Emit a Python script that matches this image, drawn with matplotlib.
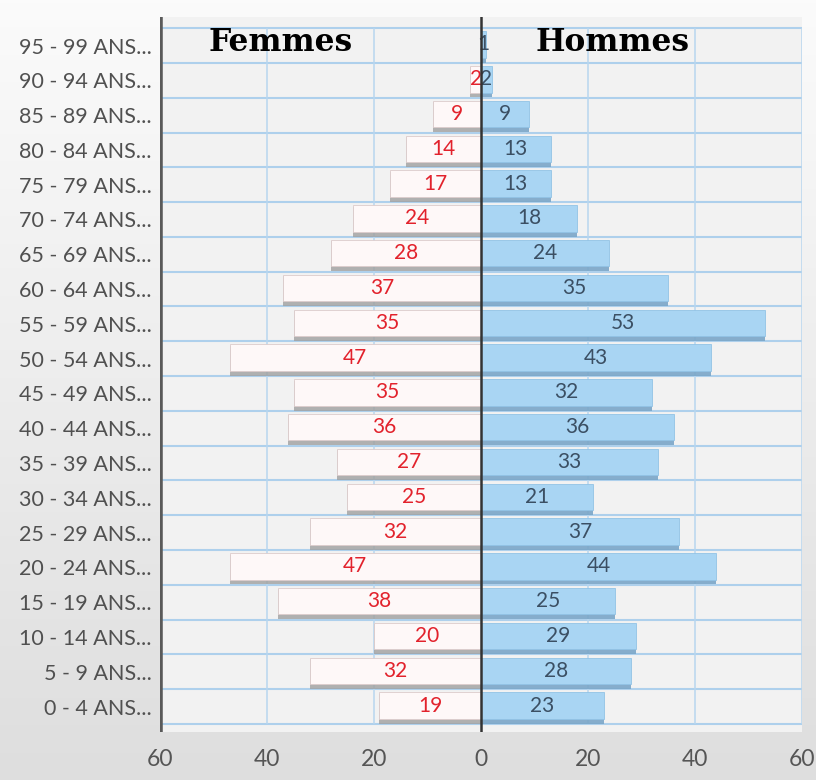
import matplotlib
matplotlib.use("Agg")
import matplotlib.pyplot as plt
import numpy as np

categories = ["0 - 4 ANS...", "5 - 9 ANS...", "10 - 14 ANS...", "15 - 19 ANS...",
              "20 - 24 ANS...", "25 - 29 ANS...", "30 - 34 ANS...", "35 - 39 ANS...",
              "40 - 44 ANS...", "45 - 49 ANS...", "50 - 54 ANS...", "55 - 59 ANS...",
              "60 - 64 ANS...", "65 - 69 ANS...", "70 - 74 ANS...", "75 - 79 ANS...",
              "80 - 84 ANS...", "85 - 89 ANS...", "90 - 94 ANS...", "95 - 99 ANS..."]
femmes = [19, 32, 20, 38, 47, 32, 25, 27, 36, 35, 47, 35, 37, 28, 24, 17, 14, 9, 2, 0]
hommes = [23, 28, 29, 25, 44, 37, 21, 33, 36, 32, 43, 53, 35, 24, 18, 13, 13, 9, 2, 1]
xticks = [-60, -40, -20, 0, 20, 40, 60]
xticklabels = ["60", "40", "20", "0", "20", "40", "60"]

label_font = ["Lato", "DejaVu Sans"]

fig = plt.figure(figsize=(8.16, 7.8), dpi=100)
fig.patch.set_facecolor("#ebebeb")

# subtle background gradient
bg = fig.add_axes([0, 0, 1, 1], zorder=-10)
grad = np.linspace(0, 1, 256).reshape(-1, 1)
bg.imshow(grad, aspect="auto", cmap=matplotlib.colors.LinearSegmentedColormap.from_list(
    "g", ["#fbfbfb", "#dedede"]), extent=[0, 1, 0, 1], origin="upper")
bg.axis("off")

ax = fig.add_axes([160 / 816, 1 - 732 / 780, (802 - 160) / 816, (732 - 17) / 780])
ax.set_facecolor("#f2f2f2")

n = len(categories)
y = np.arange(n)
ax.set_xlim(-60, 60)
ax.set_ylim(-0.73, n - 0.5 + 0.32)

# grid
ax.hlines(np.arange(-0.5, n, 1.0), -60, 60, color="#aed0ec", lw=1.5, zorder=1)
for xv in [-40, -20, 20, 40, 60]:
    ax.vlines(xv, -0.5, n - 0.5, color="#b8d6ef", lw=1.1, zorder=1)

fem = -np.array(femmes, dtype=float)
hom = np.array(hommes, dtype=float)
h = 0.86
# shadows
ax.barh(y - 0.06, fem, height=h, color="#a0a0a0", zorder=2, alpha=0.8)
ax.barh(y - 0.06, hom, height=h, color="#7aa6c8", zorder=2, alpha=0.9)
# main bars
ax.barh(y + 0.03, fem, height=h - 0.1, color="#fef8f8", edgecolor="#dccccc", lw=0.6, zorder=3)
ax.barh(y + 0.03, hom, height=h - 0.1, color="#a9d5f3", edgecolor="#92c3e6", lw=0.6, zorder=3)

for yi, f, m in zip(y, femmes, hommes):
    if f > 0:
        ax.text(-f / 2, yi + 0.03, str(f), color="#e2222c", ha="center", va="center",
                fontsize=15, family=label_font, zorder=5)
    if m > 0:
        ax.text(m / 2, yi + 0.03, str(m), color="#3b4f63", ha="center", va="center",
                fontsize=15, family=label_font, zorder=5)

# axis lines
ax.axvline(0, color="#333333", lw=1.8, zorder=6)
ax.axvline(-60, color="#5a5a5a", lw=4, zorder=6)

for s in ax.spines.values():
    s.set_visible(False)

ax.set_yticks(y)
ax.set_yticklabels(categories, family=label_font, fontsize=15.5, color="#505050")
ax.set_xticks(xticks)
ax.set_xticklabels(xticklabels, family=label_font, fontsize=16.5, color="#555555")
ax.tick_params(axis="both", length=0)
ax.tick_params(axis="y", pad=6)
ax.tick_params(axis="x", pad=12)

ax.text(-37.4, n - 1 + 0.1, "Femmes", ha="center", va="center", fontsize=22.5,
        fontweight="bold", family="DejaVu Serif", color="black", zorder=7)
ax.text(24.5, n - 1 + 0.1, "Hommes", ha="center", va="center", fontsize=22.5,
        fontweight="bold", family="DejaVu Serif", color="black", zorder=7)

fig.savefig("out.png", dpi=100, facecolor=fig.get_facecolor())
